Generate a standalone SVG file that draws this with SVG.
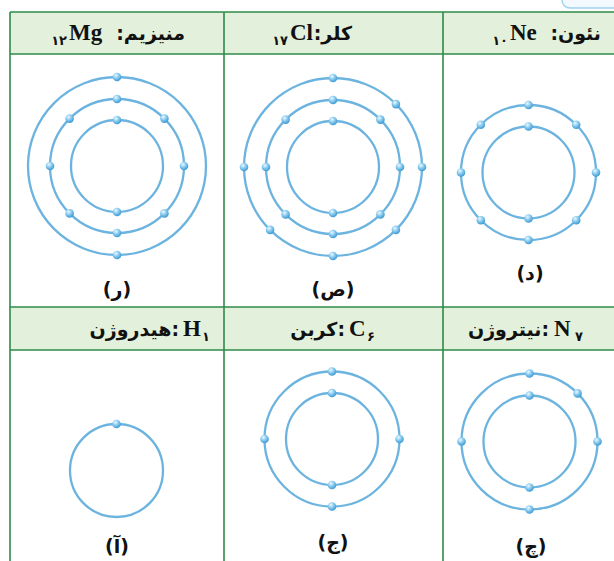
<svg xmlns="http://www.w3.org/2000/svg" width="614" height="561" viewBox="0 0 614 561">
<defs>
<radialGradient id="eg" cx="0.38" cy="0.32" r="0.7">
<stop offset="0" stop-color="#eef9ff"/>
<stop offset="0.45" stop-color="#8dcdf0"/>
<stop offset="1" stop-color="#3a98d2"/>
</radialGradient>
<style>
.ring{fill:none;stroke:#6cb4df;stroke-width:2.3}
.e{fill:url(#eg)}
.hdr{fill:#e3f1dc}
.grid{stroke:#2f8a4a;stroke-width:1.6;fill:none}
.w{font-family:"DejaVu Sans",sans-serif;font-weight:bold;font-size:19px;fill:#111}
.sym{font-family:"Liberation Serif",serif;font-weight:bold;font-size:23px;fill:#111}
.sub{font-family:"DejaVu Sans",sans-serif;font-weight:bold;font-size:13px;fill:#111}
.lbl{font-family:"DejaVu Sans",sans-serif;font-weight:bold;font-size:19px;fill:#111;text-anchor:middle}
</style>
</defs>
<rect width="614" height="561" fill="#ffffff"/>
<rect x="562" y="-12" width="70" height="20" rx="8" fill="#f3faff" stroke="#9fd2ee" stroke-width="1.5"/>
<g id="table">
<rect class="hdr" x="10" y="12" width="610" height="42"/>
<rect class="hdr" x="10" y="307" width="610" height="43"/>
<path class="grid" d="M10 12H614M10 54H614M10 307H614M10 350H614M10 12V561M224 12V561M443 12V561"/>
</g>
<g id="mg">
<text class="sub" x="67" y="45" text-anchor="end">۱۲</text>
<text class="sym" x="69" y="40">Mg</text>
<text class="w" x="185" y="40" direction="rtl" text-anchor="start">منیزیم:</text>
<circle class="ring" cx="117" cy="166" r="46"/>
<circle class="ring" cx="117" cy="166" r="67"/>
<circle class="ring" cx="117" cy="166" r="89"/>
<circle class="e" cx="117" cy="120" r="4.3"/><circle class="e" cx="117" cy="212" r="4.3"/>
<circle class="e" cx="117" cy="99" r="4.3"/><circle class="e" cx="117" cy="233" r="4.3"/>
<circle class="e" cx="50" cy="166" r="4.3"/><circle class="e" cx="184" cy="166" r="4.3"/>
<circle class="e" cx="69.6" cy="118.6" r="4.3"/><circle class="e" cx="164.4" cy="118.6" r="4.3"/>
<circle class="e" cx="69.6" cy="213.4" r="4.3"/><circle class="e" cx="164.4" cy="213.4" r="4.3"/>
<circle class="e" cx="117" cy="77" r="4.3"/><circle class="e" cx="117" cy="255" r="4.3"/>
<text class="lbl" x="117" y="296">(ر)</text>
</g>
<g id="cl">
<text class="sub" x="288" y="45" text-anchor="end">۱۷</text>
<text class="sym" x="290" y="40">Cl</text>
<text class="w" x="352" y="40" direction="rtl" text-anchor="start">کلر:</text>
<circle class="ring" cx="333" cy="167" r="46"/>
<circle class="ring" cx="333" cy="167" r="67"/>
<circle class="ring" cx="333" cy="167" r="89"/>
<circle class="e" cx="333" cy="121" r="4.3"/><circle class="e" cx="333" cy="213" r="4.3"/>
<circle class="e" cx="333" cy="100" r="4.3"/><circle class="e" cx="333" cy="234" r="4.3"/>
<circle class="e" cx="266" cy="167" r="4.3"/><circle class="e" cx="400" cy="167" r="4.3"/>
<circle class="e" cx="285.6" cy="119.6" r="4.3"/><circle class="e" cx="380.4" cy="119.6" r="4.3"/>
<circle class="e" cx="285.6" cy="214.4" r="4.3"/><circle class="e" cx="380.4" cy="214.4" r="4.3"/>
<circle class="e" cx="333" cy="78" r="4.3"/><circle class="e" cx="333" cy="256" r="4.3"/>
<circle class="e" cx="244" cy="167" r="4.3"/><circle class="e" cx="422" cy="167" r="4.3"/>
<circle class="e" cx="395.9" cy="104.1" r="4.3"/><circle class="e" cx="270.1" cy="229.9" r="4.3"/>
<circle class="e" cx="395.9" cy="229.9" r="4.3"/>
<text class="lbl" x="333" y="296">(ص)</text>
</g>
<g id="ne">
<text class="sub" x="508" y="45" text-anchor="end">۱۰</text>
<text class="sym" x="510" y="40">Ne</text>
<text class="w" x="601" y="40" direction="rtl" text-anchor="start">نئون:</text>
<circle class="ring" cx="528.5" cy="172.5" r="46"/>
<circle class="ring" cx="528.5" cy="172.5" r="67.5"/>
<circle class="e" cx="528.5" cy="126.5" r="4.3"/><circle class="e" cx="528.5" cy="218.5" r="4.3"/>
<circle class="e" cx="528.5" cy="105" r="4.3"/><circle class="e" cx="528.5" cy="240" r="4.3"/>
<circle class="e" cx="461" cy="172.5" r="4.3"/><circle class="e" cx="596" cy="172.5" r="4.3"/>
<circle class="e" cx="480.8" cy="124.8" r="4.3"/><circle class="e" cx="576.2" cy="124.8" r="4.3"/>
<circle class="e" cx="480.8" cy="220.2" r="4.3"/><circle class="e" cx="576.2" cy="220.2" r="4.3"/>
<text class="lbl" x="530" y="280">(د)</text>
</g>
<g id="h">
<text class="w" x="179" y="336" text-anchor="end">هیدروژن:</text>
<text class="sym" x="183" y="336">H</text>
<text class="sub" x="202" y="341">۱</text>
<circle class="ring" cx="116.5" cy="470.5" r="46.5"/>
<circle class="e" cx="116.5" cy="424" r="4.3"/>
<text class="lbl" x="117" y="553">(آ)</text>
</g>
<g id="c">
<text class="w" x="345" y="336" text-anchor="end">کربن:</text>
<text class="sym" x="349" y="336">C</text>
<text class="sub" x="367" y="341">۶</text>
<circle class="ring" cx="332" cy="439" r="46"/>
<circle class="ring" cx="332" cy="439" r="67.5"/>
<circle class="e" cx="332" cy="393" r="4.3"/><circle class="e" cx="332" cy="485" r="4.3"/>
<circle class="e" cx="332" cy="371.5" r="4.3"/><circle class="e" cx="332" cy="506.5" r="4.3"/>
<circle class="e" cx="264.5" cy="439" r="4.3"/><circle class="e" cx="399.5" cy="439" r="4.3"/>
<text class="lbl" x="333" y="549">(ج)</text>
</g>
<g id="n">
<text class="w" x="549" y="336" text-anchor="end">نیتروژن:</text>
<text class="sym" x="554" y="336">N</text>
<text class="sub" x="575" y="341">۷</text>
<circle class="ring" cx="529.5" cy="441.5" r="46"/>
<circle class="ring" cx="529.5" cy="441.5" r="68"/>
<circle class="e" cx="529.5" cy="395.5" r="4.3"/><circle class="e" cx="529.5" cy="487.5" r="4.3"/>
<circle class="e" cx="529.5" cy="373.5" r="4.3"/><circle class="e" cx="529.5" cy="509.5" r="4.3"/>
<circle class="e" cx="461.5" cy="441.5" r="4.3"/><circle class="e" cx="597.5" cy="441.5" r="4.3"/>
<circle class="e" cx="577.6" cy="393.4" r="4.3"/>
<text class="lbl" x="531" y="553">(چ)</text>
</g>
<g id="connectors"/>
</svg>
